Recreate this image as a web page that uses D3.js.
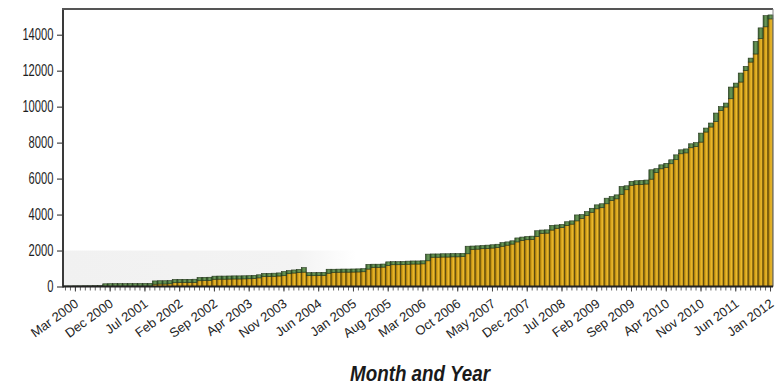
<!DOCTYPE html>
<html>
<head>
<meta charset="utf-8">
<script src="https://cdn.jsdelivr.net/npm/d3@7"></script>
<style>
  body { margin: 0; background: #fff; }
  svg { display: block; }
  text { font-family: "Liberation Sans", Arial, sans-serif; }
</style>
</head>
<body>
<div id="chart"></div>
<script>
// Months Mar 2000 .. Jan 2012
const categories = d3.timeMonth.range(new Date(2000, 2, 1), new Date(2012, 1, 1)).map(d3.timeFormat('%b %Y'));

// Cumulative total per month (top of each bar)
const totals = [
    30, 30, 35, 35, 40, 40, 45, 50,
    150, 155, 160, 160, 160, 165, 165, 165, 170, 170,
    310, 320, 320, 330,
    390, 395, 400, 400, 405,
    500, 510, 515,
    575, 580, 580, 585, 590, 590, 595, 600,
    620, 650,
    725, 730, 740, 755,
    830,
    880, 920, 950, 1050,
    770, 770, 780, 785,
    960, 960, 965, 970, 970, 975, 980, 990,
    1230, 1240, 1240, 1250,
    1370, 1380, 1380, 1390,
    1410, 1420, 1420, 1430,
    1800, 1810, 1810, 1820, 1820, 1830, 1830, 1840,
    2240, 2250, 2260, 2280, 2300,
    2320, 2350,
    2440, 2480, 2540,
    2700, 2750, 2780, 2800,
    3100, 3140, 3150,
    3400, 3420, 3450,
    3600, 3650,
    3980, 4000,
    4165, 4350, 4540, 4600, 4910, 5000, 5095, 5560, 5600,
    5850, 5880, 5900, 5920,
    6490, 6550, 6765, 6850, 7045, 7320, 7600, 7650, 7935, 8000,
    8530, 8810, 9090, 9645, 10000, 10200, 11090, 11310, 11870, 12240,
    12700, 13630, 14380, 15060, 15100
];

// Part of each bar added that month (green cap)
const added = [
    30, 30, 35, 35, 40, 40, 45, 50,
    150, 155, 160, 160, 160, 165, 165, 165, 170, 170,
    180, 180, 180, 180, 180, 180, 180, 180, 180, 180, 180, 180,
    170, 170, 170, 170, 170, 170, 170, 170, 170, 170, 170, 170, 170, 170,
    230, 170, 170, 170, 250, 170, 170, 170, 170,
    220, 170, 170, 170, 170, 170, 170, 170,
    260, 170, 170, 170,
    200, 170, 170, 170, 170, 170, 170, 170,
    370, 180, 180, 180, 180, 180, 180, 180,
    420, 180, 180, 180, 180, 180, 180,
    200, 180, 180,
    220, 180, 180, 180,
    320, 180, 180,
    260, 180, 180,
    200, 180,
    330, 220, 220, 220, 220, 220,
    310, 220, 220,
    430, 220, 220, 220, 220, 220,
    520, 220, 220, 220, 220,
    270, 220, 220, 220, 220,
    500, 220, 220,
    480, 220, 220,
    650, 220, 500, 220, 220,
    700, 600, 620, 220
];

const yTicks = [0, 2000, 4000, 6000, 8000, 10000, 12000, 14000];

const tickLabels = [
    'Mar 2000', 'Dec 2000', 'Jul 2001', 'Feb 2002', 'Sep 2002', 'Apr 2003', 'Nov 2003',
    'Jun 2004', 'Jan 2005', 'Aug 2005', 'Mar 2006', 'Oct 2006', 'May 2007', 'Dec 2007',
    'Jul 2008', 'Feb 2009', 'Sep 2009', 'Apr 2010', 'Nov 2010', 'Jun 2011', 'Jan 2012'
];
// labelled months sit on every 7th bar, counted back from the last one
const labelCats = tickLabels.map((t, i) => categories[2 + i * 7]);

const W = 780, H = 387;
const margin = { top: 9, right: 7, bottom: 100.5, left: 63 };

const rows = categories.map((m, i) => ({ month: m, base: totals[i] - added[i], added: added[i] }));
const series = d3.stack().keys(['base', 'added'])(rows);

const svg = d3.select('#chart').append('svg')
    .attr('width', W)
    .attr('height', H);

const defs = svg.append('defs');

const gold = defs.append('linearGradient').attr('id', 'gold').attr('x1', 0).attr('x2', 1).attr('y1', 0).attr('y2', 0);
gold.append('stop').attr('offset', '0%').attr('stop-color', '#8a6607');
gold.append('stop').attr('offset', '40%').attr('stop-color', '#d8a41b');
gold.append('stop').attr('offset', '65%').attr('stop-color', '#ecba2e');
gold.append('stop').attr('offset', '100%').attr('stop-color', '#94700a');

const green = defs.append('linearGradient').attr('id', 'green').attr('x1', 0).attr('x2', 1).attr('y1', 0).attr('y2', 0);
green.append('stop').attr('offset', '0%').attr('stop-color', '#355a2c');
green.append('stop').attr('offset', '55%').attr('stop-color', '#6e9c5a');
green.append('stop').attr('offset', '100%').attr('stop-color', '#3a6230');

const fade = defs.append('linearGradient').attr('id', 'fade').attr('x1', 0).attr('x2', 1).attr('y1', 0).attr('y2', 0);
fade.append('stop').attr('offset', '0%').attr('stop-color', '#f1f1f1');
fade.append('stop').attr('offset', '80%').attr('stop-color', '#f3f3f3');
fade.append('stop').attr('offset', '100%').attr('stop-color', '#ffffff');

const x = d3.scaleBand()
    .domain(categories)
    .range([margin.left, W - margin.right])
    .paddingInner(0);

const y = d3.scaleLinear()
    .domain([0, 15430])
    .range([H - margin.bottom, margin.top]);

// faint grey band behind the low part of the plot
svg.append('rect')
    .attr('x', x(categories[0]))
    .attr('y', y(2000))
    .attr('width', x(categories[59]) - x(categories[0]))
    .attr('height', y(0) - y(2000))
    .attr('fill', 'url(#fade)');

// Bars
const layers = svg.append('g').selectAll('g')
    .data(series)
    .join('g')
    .attr('fill', d => d.key === 'base' ? 'url(#gold)' : 'url(#green)')
    .attr('stroke', d => d.key === 'base' ? '#4a3a08' : '#23361b')
    .attr('stroke-width', 0.6);

layers.selectAll('rect')
    .data(d => d)
    .join('rect')
    .attr('x', d => x(d.data.month))
    .attr('y', d => y(d[1]))
    .attr('width', x.bandwidth())
    .attr('height', d => Math.max(0, y(d[0]) - y(d[1])));

// Minor ticks on every month
svg.append('g')
    .attr('transform', `translate(0,${y(0)})`)
    .call(d3.axisBottom(x).tickSize(4).tickFormat(''))
    .call(g => g.select('.domain').remove())
    .call(g => g.selectAll('line').attr('stroke', '#666'));

// Labelled ticks
const xAxisG = svg.append('g')
    .attr('transform', `translate(0,${y(0)})`)
    .call(d3.axisBottom(x).tickValues(labelCats).tickSize(5).tickFormat((d, i) => tickLabels[i]));

xAxisG.select('.domain').remove();
xAxisG.selectAll('line').attr('stroke', '#444');
xAxisG.selectAll('text')
    .attr('x', 0)
    .attr('y', 0)
    .attr('dy', 0)
    .attr('text-anchor', 'end')
    .attr('transform', 'translate(4,19) rotate(-36)')
    .attr('fill', '#1e1e1e')
    .style('font-size', '13px');

// Y axis
const yAxisG = svg.append('g')
    .attr('transform', `translate(${margin.left},0)`)
    .call(d3.axisLeft(y).tickValues(yTicks).tickSize(6).tickFormat(d3.format('d')));

yAxisG.select('.domain').remove();
yAxisG.selectAll('line').attr('stroke', '#444').attr('stroke-width', 1.2);
yAxisG.selectAll('text')
    .attr('x', 0)
    .attr('transform', 'translate(-9.5,0) scale(0.7,1)')
    .attr('fill', '#1e1e1e')
    .style('font-size', '16px');

// Frame lines
svg.append('line')
    .attr('x1', margin.left).attr('x2', margin.left)
    .attr('y1', margin.top - 1).attr('y2', y(0) + 1)
    .attr('stroke', '#3a3a3a').attr('stroke-width', 2);

svg.append('line')
    .attr('x1', margin.left - 1).attr('x2', W - margin.right)
    .attr('y1', margin.top).attr('y2', margin.top)
    .attr('stroke', '#555').attr('stroke-width', 2);

svg.append('line')
    .attr('x1', W - margin.right).attr('x2', W - margin.right)
    .attr('y1', margin.top).attr('y2', y(0))
    .attr('stroke', '#888').attr('stroke-width', 1);

svg.append('line')
    .attr('x1', margin.left).attr('x2', W - margin.right)
    .attr('y1', y(0)).attr('y2', y(0))
    .attr('stroke', '#222').attr('stroke-width', 2);

// Axis title
svg.append('text')
    .attr('x', 420)
    .attr('y', 381)
    .attr('text-anchor', 'middle')
    .attr('textLength', 140)
    .attr('lengthAdjust', 'spacingAndGlyphs')
    .attr('fill', '#1a1a1a')
    .style('font-size', '22px')
    .style('font-weight', 'bold')
    .style('font-style', 'italic')
    .text('Month and Year');
</script>
</body>
</html>
